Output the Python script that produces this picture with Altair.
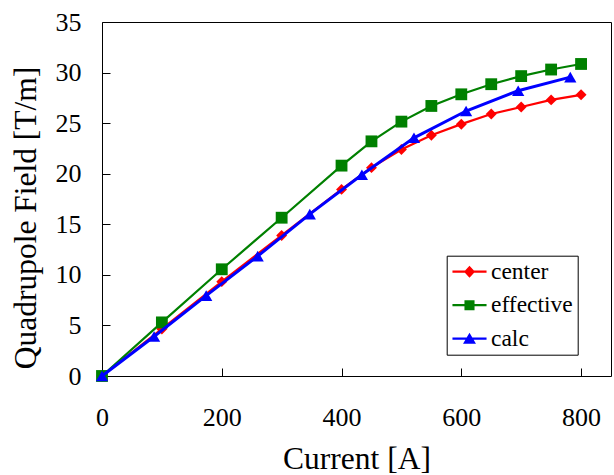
import altair as alt
import pandas as pd

# ---- data ----
series_names = ["center", "effective", "calc"]
series_colors = ["#ff0000", "#008000", "#0000ff"]
series_shapes = ["diamond", "square", "triangle-up"]
line_widths = [2.2, 2.2, 3.0]
marker_sizes = [120, 140, 150]

current_main = [0, 100, 200, 300, 400, 450, 500, 550, 600, 650, 700, 750, 800]
center_vals = [0, 4.65, 9.33, 13.9, 18.45, 20.6, 22.4, 23.8, 24.9, 25.9, 26.6, 27.3, 27.8]
effective_vals = [0, 5.3, 10.55, 15.65, 20.8, 23.2, 25.15, 26.7, 27.85, 28.85, 29.65, 30.3, 30.85]

current_calc = [0, 87, 174, 260, 347, 434, 521, 608, 695, 782]
calc_vals = [0, 3.9, 7.95, 11.85, 16.0, 19.9, 23.55, 26.2, 28.2, 29.55]

x_ticks = [0, 200, 400, 600, 800]
y_ticks = [0, 5, 10, 15, 20, 25, 30, 35]

rows = []
for c, v in zip(current_main, center_vals):
    rows.append({"series": "center", "current": c, "field": v})
for c, v in zip(current_main, effective_vals):
    rows.append({"series": "effective", "current": c, "field": v})
for c, v in zip(current_calc, calc_vals):
    rows.append({"series": "calc", "current": c, "field": v})
df = pd.DataFrame(rows)

FONT = "Liberation Serif"

# legend symbols: a line segment with the series marker on it
line_part = "M-1.42,-0.09H1.42V0.09H-1.42Z"
legend_symbols = [
    line_part + "M0,-0.5L0.46,0L0,0.5L-0.46,0Z",
    line_part + "M-0.42,-0.42H0.42V0.42H-0.42Z",
    line_part + "M0,-0.5L0.54,0.42H-0.54Z",
]

x_enc = alt.X(
    "current:Q",
    scale=alt.Scale(domain=[0, 850], nice=False),
    axis=alt.Axis(
        values=x_ticks,
        offset=-8,
        tickSize=8,
        tickColor="black",
        domain=False,
        grid=False,
        labelFlush=False,
        labelFont=FONT,
        labelFontSize=26,
        labelColor="black",
        labelBaseline="top",
        labelPadding=28.5,
        title="Current [A]",
        titleFont=FONT,
        titleFontSize=31.5,
        titleFontWeight="normal",
        titleColor="black",
        titleBaseline="alphabetic",
        titleY=100,
    ),
)

y_enc = alt.Y(
    "field:Q",
    scale=alt.Scale(domain=[0, 35], nice=False),
    axis=alt.Axis(
        values=y_ticks,
        offset=-8,
        tickSize=8,
        tickColor="black",
        domain=False,
        grid=False,
        labelFlush=False,
        labelFont=FONT,
        labelFontSize=26,
        labelColor="black",
        labelPadding=21,
        title="Quadrupole Field [T/m]",
        titleFont=FONT,
        titleFontSize=31.5,
        titleFontWeight="normal",
        titleColor="black",
        titleAngle=270,
        titleAlign="center",
        titleBaseline="alphabetic",
        titleX=-75,
        titleY=195.5,
    ),
)

color_scale = alt.Scale(domain=series_names, range=series_colors)
shape_scale = alt.Scale(domain=series_names, range=series_shapes)

# one line layer and one marker layer per series, drawn in series order
layers = []
for i, name in enumerate(series_names):
    base = alt.Chart(df).transform_filter(alt.datum.series == name)
    layers.append(
        base.mark_line(strokeWidth=line_widths[i], clip=False).encode(
            x=x_enc,
            y=y_enc,
            color=alt.Color("series:N", scale=color_scale, legend=None),
        )
    )
    layers.append(
        base.mark_point(filled=True, size=marker_sizes[i], opacity=1, clip=False).encode(
            x=x_enc,
            y=y_enc,
            color=alt.Color("series:N", scale=color_scale, legend=None),
            shape=alt.Shape("series:N", scale=shape_scale, legend=None),
        )
    )

legend_kw = dict(
    title=None,
    orient="none",
    legendX=344.7,
    legendY=233.7,
    labelFont=FONT,
    labelFontSize=23.5,
    labelColor="black",
    strokeColor="black",
    fillColor="white",
    padding=4,
    cornerRadius=0,
    symbolSize=576,
    symbolOffset=6.8,
    labelOffset=9.5,
    rowPadding=9.5,
    symbolStrokeWidth=0,
    symbolOpacity=1,
)

legend_layer = (
    alt.Chart(df)
    .transform_filter("false")
    .mark_point(filled=True, size=576)
    .encode(
        x=x_enc,
        y=y_enc,
        color=alt.Color("series:N", scale=color_scale, legend=alt.Legend(**legend_kw)),
        shape=alt.Shape(
            "series:N",
            scale=alt.Scale(domain=series_names, range=legend_symbols),
            legend=alt.Legend(**legend_kw),
        ),
    )
)
layers.append(legend_layer)

chart = (
    alt.layer(*layers)
    .resolve_scale(color="independent", shape="independent")
    .resolve_legend(color="independent", shape="independent")
    .properties(
        width=509,
        height=354,
        padding={"left": 102, "top": 22, "right": 3, "bottom": 99},
        autosize=alt.AutoSizeParams(type="none"),
        background="white",
    )
    .configure(font=FONT)
    .configure_axis(labelFont=FONT, titleFont=FONT)
    .configure_legend(labelFont=FONT)
    .configure_view(stroke="black", strokeWidth=1)
)

chart.save("out.html", embed_options={"renderer": "svg", "actions": False})
